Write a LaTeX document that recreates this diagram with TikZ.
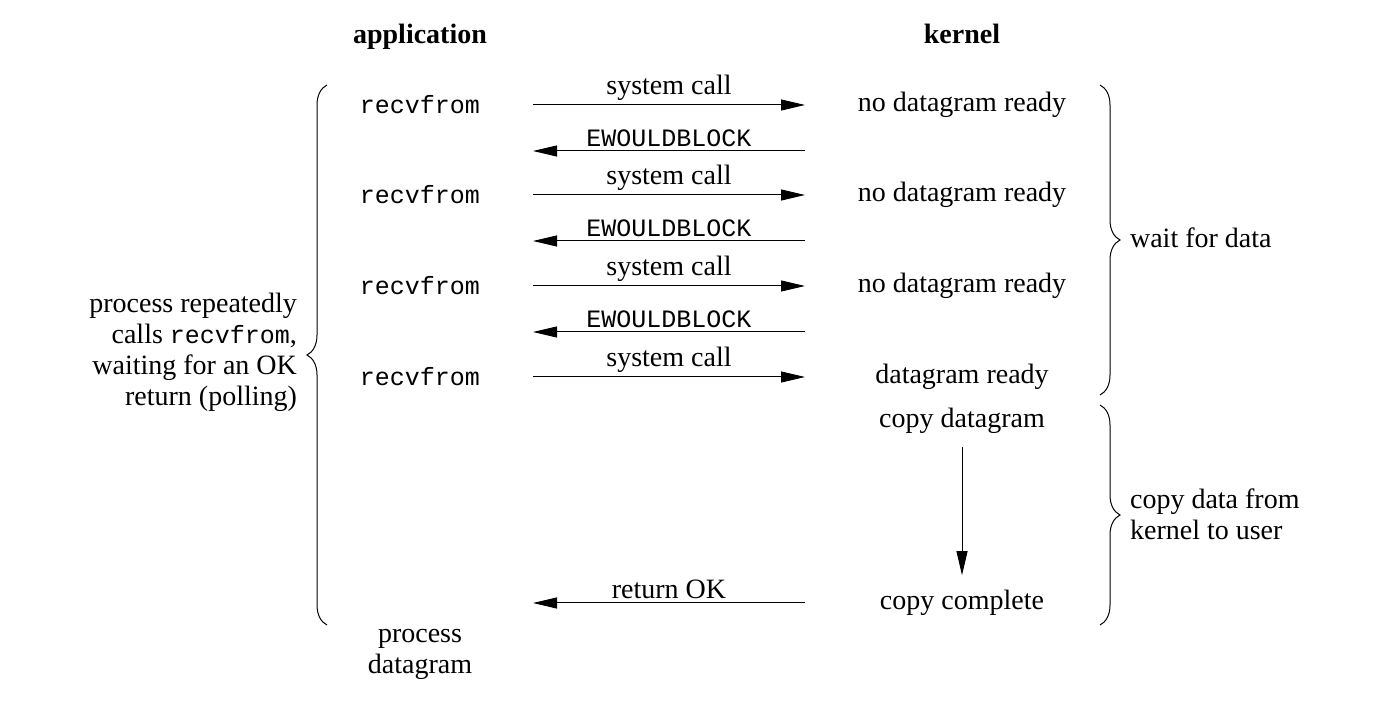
\documentclass[tikz,border=0pt]{standalone}
\usepackage{fontspec}
\setmainfont{Liberation Serif}
\setmonofont{Liberation Mono}
\usetikzlibrary{arrows.meta}
\usetikzlibrary{decorations.pathreplacing}
\newcommand{\cw}[1]{{\fontsize{12.5}{15.5}\selectfont\texttt{#1}}}
\tikzset{
  msg/.style={-{Triangle[length=12pt,width=5.5pt]}, line width=0.5pt},
  brc/.style={decorate, decoration={brace, amplitude=10pt}, line width=0.5pt},
  lbl/.style={above, inner sep=2pt},
}

\begin{document}
\begin{tikzpicture}[x=0.5pt,y=-0.5pt,font=\fontsize{14}{15.5}\selectfont]
    \useasboundingbox (0,0) rectangle (1386,704);
    \node (app) at (420,44) [anchor=base] {\textbf{application}};
    \node (ker) at (962,44) [anchor=base] {\textbf{kernel}};
    % application side
    \node (r1) at (420,105) {\cw{recvfrom}};
    \node (r2) at (420,195) {\cw{recvfrom}};
    \node (r3) at (420,286) {\cw{recvfrom}};
    \node (r4) at (420,377) {\cw{recvfrom}};
    \node (pd) at (420,654) [align=center] {process\\datagram};
    \node (poll) at (304,352) [anchor=east, align=right] {process repeatedly\\calls \cw{recvfrom},\\waiting for an OK\\return (polling)};
    % kernel side
    \node (k1) at (962,105) {no datagram ready};
    \node (k2) at (962,195) {no datagram ready};
    \node (k3) at (962,286) {no datagram ready};
    \node (k4) at (962,377) {datagram ready};
    \node (cpd) at (962,421) {copy datagram};
    \node (cpc) at (962,603) {copy complete};
    \node (wait) at (1123,238) [anchor=west] {wait for data};
    \node (copy) at (1123,514) [anchor=west, align=left] {copy data from\\kernel to user};
    % arrow ends
    \coordinate (a1) at (533,105); \coordinate (b1) at (805,105);
    \coordinate (a2) at (533,151); \coordinate (b2) at (805,151);
    \coordinate (a3) at (533,195); \coordinate (b3) at (805,195);
    \coordinate (a4) at (533,241); \coordinate (b4) at (805,241);
    \coordinate (a5) at (533,286); \coordinate (b5) at (805,286);
    \coordinate (a6) at (533,332); \coordinate (b6) at (805,332);
    \coordinate (a7) at (533,377); \coordinate (b7) at (805,377);
    \coordinate (a8) at (533,603); \coordinate (b8) at (805,603);
    \draw [msg] (a1) -- node [lbl] {system call} (b1);
    \draw [msg] (b2) -- node [lbl] {\cw{EWOULDBLOCK}} (a2);
    \draw [msg] (a3) -- node [lbl] {system call} (b3);
    \draw [msg] (b4) -- node [lbl] {\cw{EWOULDBLOCK}} (a4);
    \draw [msg] (a5) -- node [lbl] {system call} (b5);
    \draw [msg] (b6) -- node [lbl] {\cw{EWOULDBLOCK}} (a6);
    \draw [msg] (a7) -- node [lbl] {system call} (b7);
    \draw [msg] (b8) -- node [lbl] {return OK} (a8);
    \draw [msg, shorten <=3pt, shorten >=4pt] (cpd) -- (cpc);
    % braces
    \coordinate (lb1) at (327,625); \coordinate (lb2) at (327,85);
    \coordinate (rb1) at (1100,85); \coordinate (rb2) at (1100,395);
    \coordinate (rb3) at (1100,405); \coordinate (rb4) at (1100,625);
    \draw [brc] (lb1) -- (lb2);
    \draw [brc] (rb1) -- (rb2);
    \draw [brc] (rb3) -- (rb4);
\end{tikzpicture}
\end{document}
